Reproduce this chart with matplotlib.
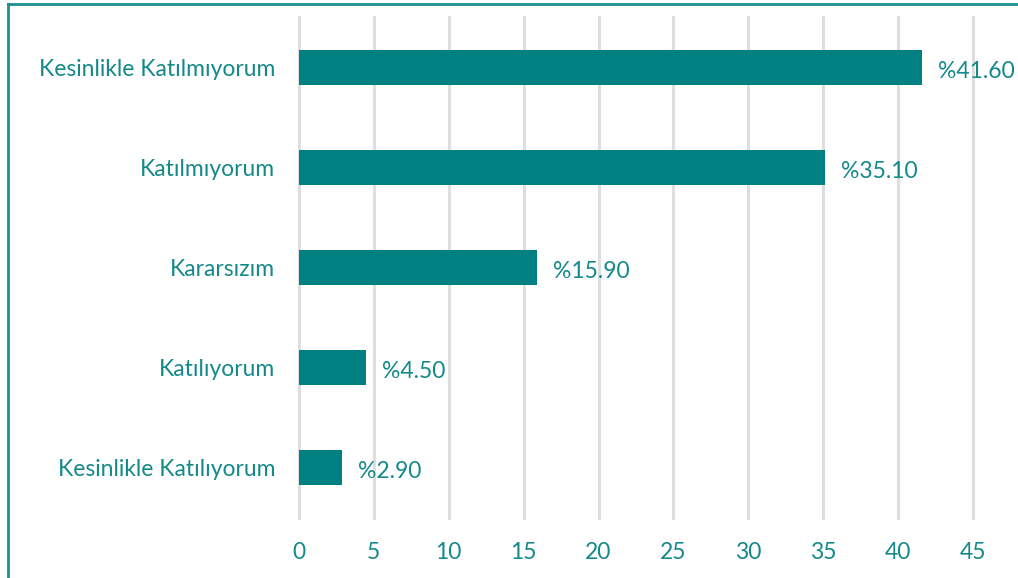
import matplotlib
matplotlib.use("Agg")
import matplotlib.pyplot as plt
from matplotlib.lines import Line2D

categories = ["Kesinlikle Katılmıyorum", "Katılmıyorum", "Kararsızım", "Katılıyorum", "Kesinlikle Katılıyorum"]
values = [41.60, 35.10, 15.90, 4.50, 2.90]
value_labels = ["%41.60", "%35.10", "%15.90", "%4.50", "%2.90"]
xticks = [0, 5, 10, 15, 20, 25, 30, 35, 40, 45]

bar_color = "#008080"
text_color = "#15898a"
grid_color = "#dedede"

plt.rcParams['font.family'] = ['Lato', 'DejaVu Sans']

fig = plt.figure(figsize=(10.18, 5.78), dpi=100)
ax = fig.add_axes([299/1018, 1 - 518/578, (973 - 299)/1018, (518 - 17)/578])

ypos = list(range(len(categories)))
ax.barh(ypos, values, height=0.35, color=bar_color, zorder=3)
ax.set_ylim(len(categories) - 0.5, -0.5)
ax.set_xlim(0, 45)
ax.set_yticks(ypos)
ax.set_yticklabels(categories, fontsize=16.5, color=text_color)
ax.set_xticks(xticks)
ax.set_xticklabels([str(t) for t in xticks], fontsize=16.5, color=text_color)
ax.tick_params(axis='y', length=0, pad=17)
ax.tick_params(axis='x', length=0, pad=17)
for s in ax.spines.values():
    s.set_visible(False)
for t in xticks:
    ax.axvline(t, color=grid_color, linewidth=2.2, zorder=1, clip_on=False)

for y, v, lab in zip(ypos, values, value_labels):
    ax.annotate(lab, (v, y), xytext=(16, -4), textcoords='offset pixels',
                ha='left', va='center', fontsize=16.5, color=text_color)

# figure border (left and top)
fig.add_artist(Line2D([7.5/1018, 7.5/1018], [0, 1 - 3.5/578], transform=fig.transFigure, color="#1a9090", linewidth=2))
fig.add_artist(Line2D([7.5/1018, 1], [1 - 3.5/578, 1 - 3.5/578], transform=fig.transFigure, color="#1a9090", linewidth=2))

fig.savefig("out.png", dpi=100)
